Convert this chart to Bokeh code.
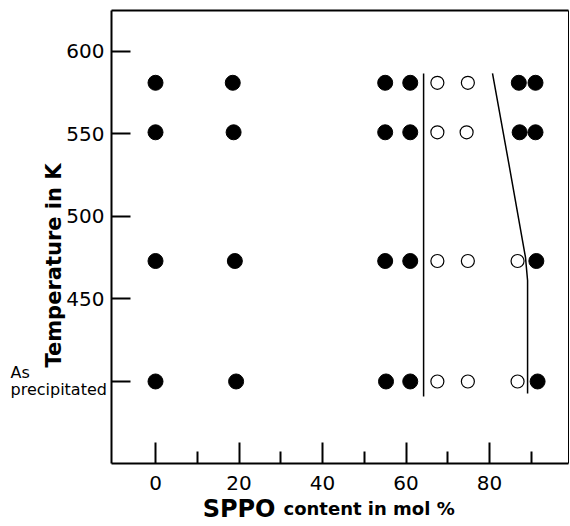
import math
from bokeh.plotting import figure
from bokeh.models import Range1d, FixedTicker, Label, LinearAxis
from bokeh.embed import file_html
from bokeh.resources import INLINE

# ---- data ----
filled_x = [0, 18.5, 55, 61, 87, 91,
            0, 18.7, 55, 61, 87.2, 91,
            0, 19, 55, 61, 91.2,
            0, 19.3, 55.2, 61, 91.5]
filled_t = [581, 581, 581, 581, 581, 581,
            551, 551, 551, 551, 551, 551,
            473, 473, 473, 473, 473,
            400, 400, 400, 400, 400]
open_x = [67.5, 74.8,
          67.5, 74.5,
          67.5, 74.8, 86.7,
          67.5, 74.8, 86.7]
open_t = [581, 581,
          551, 551,
          473, 473, 473,
          400, 400, 400]
boundary1_x = [64.2, 64.2]
boundary1_t = [586.7, 390.9]
boundary2_x = [80.7, 84.6, 88.6, 89.1, 89.1]
boundary2_t = [586.7, 532.1, 475.2, 461.2, 392.7]

x_ticks = [0, 20, 40, 60, 80]
x_minor_ticks = [10, 30, 50, 70, 90]
y_ticks = [400, 450, 500, 550, 600]
y_tick_overrides = {400: ""}

x_title_main = "SPPO"
x_title_rest = "content in mol %"
y_title = "Temperature in K"
y_special = ["As", "precipitated"]

# ---- layout: axis box limits and pixel mapping ----
W, H = 570, 526
X0, X1 = -10.54, 98.9          # x data at box left / right
Y0, Y1 = 350.3, 624.8          # T data at box bottom / top
FL, FR, FT, FB = 111, 568, 10, 463


def dx(px):
    return X0 + (px - FL) / (FR - FL) * (X1 - X0)


def dy(py):
    return Y1 - (py - FT) / (FB - FT) * (Y1 - Y0)


p = figure(width=W, height=H, x_range=Range1d(dx(0), dx(W)), y_range=Range1d(dy(H), dy(0)),
           x_axis_type=None, y_axis_type=None,
           output_backend="svg", toolbar_location=None,
           min_border_left=0, min_border_right=0, min_border_top=0, min_border_bottom=0)
p.xgrid.visible = False
p.ygrid.visible = False
p.outline_line_color = None
p.background_fill_color = "white"
p.border_fill_color = "white"

FONT = "DejaVu Sans"

xa = LinearAxis(fixed_location=Y0, bounds=(X0, X1),
                ticker=FixedTicker(ticks=x_ticks, minor_ticks=x_minor_ticks))
xa.major_tick_in = 21
xa.major_tick_out = 0
xa.minor_tick_in = 12
xa.minor_tick_out = 0
xa.axis_line_width = 2
xa.major_tick_line_width = 2
xa.minor_tick_line_width = 2
xa.major_label_standoff = 12
xa.major_label_text_font = FONT
xa.major_label_text_font_size = "20px"
xa.major_label_text_color = "black"
p.add_layout(xa, "below")

ya = LinearAxis(fixed_location=X0, bounds=(Y0, Y1),
                ticker=FixedTicker(ticks=y_ticks, minor_ticks=[]))
ya.major_tick_in = 19
ya.major_tick_out = 0
ya.minor_tick_in = 0
ya.minor_tick_out = 0
ya.axis_line_width = 2
ya.major_tick_line_width = 2
ya.major_label_standoff = 7
ya.major_label_overrides = y_tick_overrides
ya.major_label_text_font = FONT
ya.major_label_text_font_size = "20px"
ya.major_label_text_color = "black"
p.add_layout(ya, "left")

# box closing lines (top and right), as bare axes
top_ax = LinearAxis(fixed_location=Y1, bounds=(X0, X1), ticker=FixedTicker(ticks=[]),
                    major_tick_in=0, major_tick_out=0, minor_tick_in=0, minor_tick_out=0,
                    major_label_text_font_size="0px", axis_line_width=2)
p.add_layout(top_ax, "above")
right_ax = LinearAxis(fixed_location=X1, bounds=(Y0, Y1), ticker=FixedTicker(ticks=[]),
                      major_tick_in=0, major_tick_out=0, minor_tick_in=0, minor_tick_out=0,
                      major_label_text_font_size="0px", axis_line_width=1)
p.add_layout(right_ax, "right")

p.line(boundary1_x, boundary1_t, line_color="black", line_width=1.5)
p.line(boundary2_x, boundary2_t, line_color="black", line_width=1.5)
p.scatter(filled_x, filled_t, size=15, fill_color="black", line_color="black")
p.scatter(open_x, open_t, size=13, fill_color="white", line_color="black", line_width=1.2)

p.add_layout(Label(x=dx(53), y=dy(265), text=y_title, angle=math.pi / 2,
                   text_align="center", text_baseline="middle",
                   text_font=FONT, text_font_style="bold", text_font_size="21px",
                   text_color="black"))
p.add_layout(Label(x=dx(275), y=dy(508), text=x_title_main,
                   text_align="right", text_baseline="alphabetic",
                   text_font=FONT, text_font_style="bold", text_font_size="24px",
                   text_color="black"))
p.add_layout(Label(x=dx(283), y=dy(508), text=x_title_rest,
                   text_align="left", text_baseline="alphabetic",
                   text_font=FONT, text_font_style="bold", text_font_size="18px",
                   text_color="black"))
p.add_layout(Label(x=dx(10), y=dy(372), text=y_special[0],
                   text_align="left", text_baseline="alphabetic",
                   text_font=FONT, text_font_size="16px", text_color="black"))
p.add_layout(Label(x=dx(10), y=dy(389), text=y_special[1],
                   text_align="left", text_baseline="alphabetic",
                   text_font=FONT, text_font_size="16px", text_color="black"))

open("out.html", "w").write(file_html(p, INLINE))
